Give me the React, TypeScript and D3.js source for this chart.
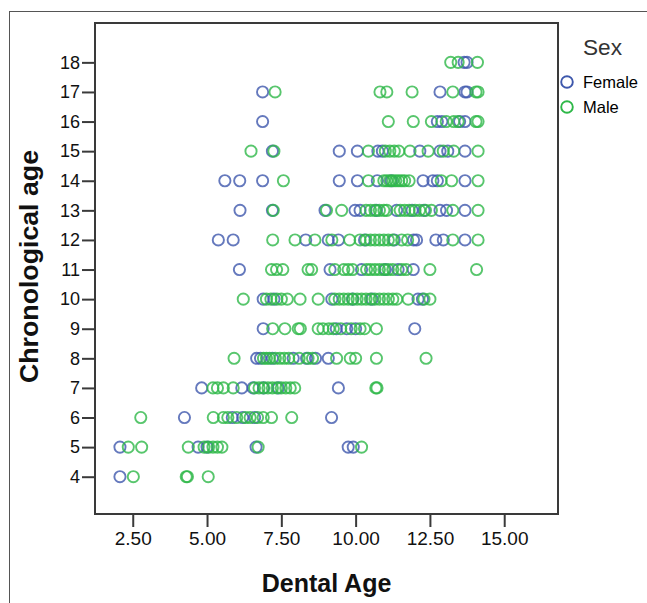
import React, { useRef, useEffect } from 'react';
import * as d3 from 'd3';

// chronological ages (rows)
const ages = [18, 17, 16, 15, 14, 13, 12, 11, 10, 9, 8, 7, 6, 5, 4];

// dental age readings per row, same order as ages
const femaleDental = [
  [13.65, 13.75],
  [6.87, 12.84, 13.68, 13.75],
  [6.87, 12.75, 12.9, 13.5, 13.68],
  [7.2, 9.45, 10.06, 10.75, 10.9, 12.16, 12.84, 13.1, 13.68],
  [5.6, 6.1, 6.87, 9.45, 10.06, 10.73, 11.2, 12.27, 12.6, 12.75, 13.68],
  [6.11, 7.2, 8.97, 9.98, 10.15, 10.7, 11.38, 11.9, 12.3, 12.84, 13.06, 13.68],
  [5.38, 5.88, 8.32, 9.08, 9.42, 10.3, 11.3, 11.95, 12.05, 12.7, 12.95, 13.68],
  [6.09, 9.14, 10.2, 11.0, 11.43, 11.94],
  [6.89, 7.25, 9.2, 9.9, 10.55, 12.1, 12.25],
  [6.89, 9.35, 9.7, 10.0, 11.99],
  [6.67, 6.8, 7.2, 7.9, 8.35, 8.65, 9.08],
  [4.82, 6.17, 6.55, 6.9, 7.4, 9.42],
  [4.24, 5.85, 6.2, 6.6, 9.19],
  [2.07, 4.7, 5.0, 6.65, 9.75, 9.92],
  [2.07],
];

const maleDental = [
  [13.2, 13.45, 14.1],
  [7.29, 10.82, 11.05, 11.9, 13.27, 14.05, 14.12],
  [11.1, 11.94, 12.55, 13.05, 13.3, 13.45, 14.05, 14.12],
  [6.48, 7.25, 10.43, 11.0, 11.15, 11.3, 11.45, 11.83, 12.44, 12.95, 13.3, 14.12],
  [7.57, 10.43, 10.95, 11.05, 11.15, 11.25, 11.35, 11.45, 11.55, 11.65, 11.8, 12.88, 13.23, 14.12],
  [7.23, 9.02, 9.53, 10.35, 10.5, 10.65, 10.8, 10.95, 11.05, 11.5, 11.65, 11.8, 12.0, 12.15, 12.35, 12.55, 13.27, 14.12],
  [7.21, 7.96, 8.63, 9.2, 9.8, 10.15, 10.35, 10.5, 10.65, 10.8, 10.95, 11.1, 11.25, 11.55, 11.75, 13.27, 14.12],
  [7.17, 7.34, 7.55, 8.4, 8.52, 9.3, 9.6, 9.75, 9.9, 10.37, 10.5, 10.65, 10.8, 10.95, 11.1, 11.25, 11.55, 11.7, 12.5, 14.07],
  [6.22, 7.0, 7.15, 7.35, 7.5, 7.7, 8.13, 8.74, 9.3, 9.45, 9.6, 9.75, 9.9, 10.05, 10.2, 10.35, 10.5, 10.65, 10.8, 10.95, 11.1, 11.25, 11.38, 11.77, 12.3, 12.5],
  [7.21, 7.62, 8.07, 8.14, 8.74, 8.9, 9.1, 9.25, 9.5, 9.85, 10.15, 10.3, 10.7],
  [5.91, 6.9, 7.0, 7.1, 7.3, 7.45, 7.6, 7.75, 8.1, 8.4, 8.55, 9.36, 9.82, 10.0, 10.7, 12.37],
  [5.2, 5.35, 5.55, 5.88, 6.6, 6.75, 6.9, 7.05, 7.2, 7.35, 7.5, 7.65, 7.8, 7.95, 10.68, 10.72],
  [2.77, 5.21, 5.55, 5.7, 6.0, 6.3, 6.45, 6.7, 6.89, 7.17, 7.85],
  [2.35, 2.8, 4.37, 4.9, 5.05, 5.2, 5.35, 5.5, 6.72, 10.2],
  [2.52, 4.3, 4.34, 5.04],
];

const xTicks = [2.5, 5, 7.5, 10, 12.5, 15];
const yTicks = [4, 5, 6, 7, 8, 9, 10, 11, 12, 13, 14, 15, 16, 17, 18];
const sexes = ['Female', 'Male'];
const sexColors = ['#3e58ac', '#2eb848'];

const App = () => {
  const svgRef = useRef(null);
  const width = 647;
  const height = 603;

  useEffect(() => {
    const svg = d3.select(svgRef.current);
    svg.selectAll('*').remove();

    // plot box in page pixels
    const left = 95, right = 558, top = 23, bottom = 514;

    const x = d3.scaleLinear().domain([1.23, 16.81]).range([left, right]);
    const y = d3.scaleLinear().domain([2.74, 19.33]).range([bottom, top]);

    // outer frame (cut off by the page on right / bottom)
    svg.append('rect')
      .attr('x', 9.5).attr('y', 11.5)
      .attr('width', 700).attr('height', 700)
      .attr('fill', 'none')
      .attr('stroke', '#555')
      .attr('stroke-width', 1);

    // points
    const points = [];
    ages.forEach((age, i) => {
      femaleDental[i].forEach(d => points.push({ age, dental: d, sex: 0 }));
      maleDental[i].forEach(d => points.push({ age, dental: d, sex: 1 }));
    });

    svg.append('g')
      .selectAll('circle')
      .data(points)
      .enter()
      .append('circle')
      .attr('cx', d => x(d.dental))
      .attr('cy', d => y(d.age))
      .attr('r', 5.6)
      .attr('fill', 'none')
      .attr('stroke', d => sexColors[d.sex])
      .attr('stroke-width', 1.9)
      .attr('stroke-opacity', 0.8);

    // frame
    svg.append('rect')
      .attr('x', left).attr('y', top)
      .attr('width', right - left).attr('height', bottom - top)
      .attr('fill', 'none')
      .attr('stroke', '#3a3a3a')
      .attr('stroke-width', 2);

    // y axis
    const yAxis = svg.append('g')
      .attr('transform', `translate(${left},0)`)
      .call(d3.axisLeft(y).tickValues(yTicks).tickSize(13).tickPadding(2).tickFormat(d3.format('d')));
    yAxis.select('.domain').remove();
    yAxis.selectAll('line').attr('stroke', '#3a3a3a').attr('stroke-width', 2);
    yAxis.selectAll('text')
      .attr('font-family', '"Liberation Sans", Arial, sans-serif')
      .attr('font-size', 18)
      .attr('fill', '#111');

    // x axis
    const xAxis = svg.append('g')
      .attr('transform', `translate(0,${bottom})`)
      .call(d3.axisBottom(x).tickValues(xTicks).tickSize(13).tickPadding(5).tickFormat(d3.format('.2f')));
    xAxis.select('.domain').remove();
    xAxis.selectAll('line').attr('stroke', '#3a3a3a').attr('stroke-width', 2);
    xAxis.selectAll('text')
      .attr('font-family', '"Liberation Sans", Arial, sans-serif')
      .attr('font-size', 19)
      .attr('fill', '#111');

    // axis titles
    svg.append('text')
      .attr('x', (left + right) / 2)
      .attr('y', 592)
      .attr('text-anchor', 'middle')
      .attr('font-family', '"Liberation Sans", Arial, sans-serif')
      .attr('font-size', 25)
      .attr('font-weight', 'bold')
      .attr('fill', '#111')
      .text('Dental Age');

    svg.append('text')
      .attr('transform', 'rotate(-90)')
      .attr('x', -266.5)
      .attr('y', 38)
      .attr('text-anchor', 'middle')
      .attr('font-family', '"Liberation Sans", Arial, sans-serif')
      .attr('font-size', 25)
      .attr('font-weight', 'bold')
      .attr('fill', '#111')
      .attr('textLength', 233)
      .attr('lengthAdjust', 'spacingAndGlyphs')
      .text('Chronological age');

    // legend
    svg.append('text')
      .attr('x', 583)
      .attr('y', 55)
      .attr('font-family', '"Liberation Sans", Arial, sans-serif')
      .attr('font-size', 22)
      .attr('fill', '#333')
      .attr('textLength', 39)
      .attr('lengthAdjust', 'spacingAndGlyphs')
      .text('Sex');

    const legend = svg.append('g')
      .selectAll('g')
      .data(sexes)
      .enter()
      .append('g')
      .attr('transform', (d, i) => `translate(567,${82 + i * 25})`);

    legend.append('circle')
      .attr('r', 5.8)
      .attr('fill', 'none')
      .attr('stroke', (d, i) => sexColors[i])
      .attr('stroke-width', 1.9);

    legend.append('text')
      .attr('x', 16)
      .attr('y', 6)
      .attr('font-family', '"Liberation Sans", Arial, sans-serif')
      .attr('font-size', 16.5)
      .attr('fill', '#000')
      .text(d => d);
  }, []);

  return (
    <svg
      ref={svgRef}
      width={width}
      height={height}
      style={{ position: 'absolute', left: 0, top: 0, background: '#fff' }}
    />
  );
};

export default App;
